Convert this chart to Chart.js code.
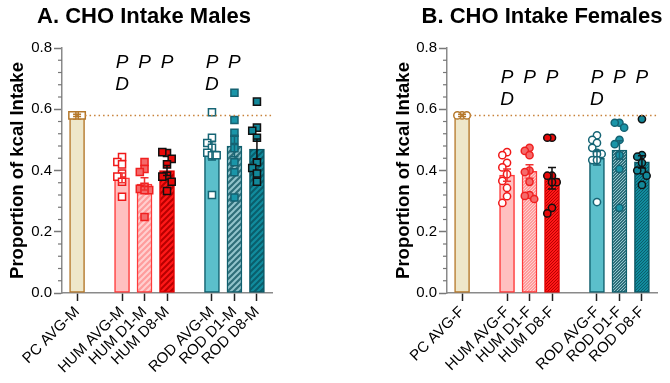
<!DOCTYPE html>
<html>
<head>
<meta charset="utf-8">
<script src="https://cdn.jsdelivr.net/npm/chart.js@4.4.1/dist/chart.umd.min.js"></script>
<style>
  body { margin: 0; background: #fff; }
  #wrap { display: flex; width: 670px; height: 383px; }
  canvas { display: block; }
</style>
</head>
<body>
<div id="wrap">
  <canvas id="males" width="335" height="383"></canvas>
  <canvas id="females" width="335" height="383"></canvas>
</div>
<script>
// Posições das categorias no eixo x (com espaços entre grupos)
const xPos = [0, 2, 3, 4, 6, 7, 8]
const groupsM = ["PC AVG-M", "HUM AVG-M", "HUM D1-M", "HUM D8-M", "ROD AVG-M", "ROD D1-M", "ROD D8-M"]
const groupsF = ["PC AVG-F", "HUM AVG-F", "HUM D1-F", "HUM D8-F", "ROD AVG-F", "ROD D1-F", "ROD D8-F"]

// Médias e erro padrão
const meansM = [0.58, 0.376, 0.356, 0.40, 0.464, 0.48, 0.47]
const semM = [0.004, 0.016, 0.02, 0.016, 0.03, 0.035, 0.033]
const meansF = [0.58, 0.385, 0.397, 0.375, 0.44, 0.467, 0.428]
const semF = [0.004, 0.02, 0.022, 0.035, 0.022, 0.03, 0.02]
const pcRef = 0.58

// Anotações P / D
const pLabels = ["", "P", "P", "P", "P", "P", ""]
const dLabelsM = ["", "D", "", "", "D", "", ""]
const pLabelsF = ["", "P", "P", "P", "P", "P", "P"]
const dLabelsF = ["", "D", "", "", "D", "", ""]

// Valores individuais - machos
const pcM = [0.58, 0.58, 0.58]
const humAvgM = [0.444, 0.428, 0.42, 0.39, 0.38, 0.363, 0.314]
const humD1M = [0.428, 0.405, 0.395, 0.347, 0.34, 0.336, 0.336, 0.248]
const humD8M = [0.457, 0.46, 0.438, 0.42, 0.383, 0.38, 0.363, 0.333]
const rodAvgM = [0.59, 0.507, 0.49, 0.474, 0.458, 0.45, 0.45, 0.32]
const rodD1M = [0.654, 0.565, 0.523, 0.50, 0.473, 0.427, 0.394, 0.312]
const rodD8M = [0.625, 0.54, 0.53, 0.507, 0.427, 0.408, 0.39, 0.363]

// Valores individuais - fêmeas
const pcF = [0.58, 0.58, 0.58]
const humAvgF = [0.46, 0.45, 0.425, 0.41, 0.388, 0.366, 0.343, 0.316, 0.294]
const humD1F = [0.474, 0.464, 0.45, 0.40, 0.395, 0.363, 0.32, 0.317, 0.307]
const humD8F = [0.507, 0.507, 0.383, 0.383, 0.362, 0.362, 0.278, 0.26]
const rodAvgF = [0.515, 0.50, 0.49, 0.474, 0.458, 0.454, 0.454, 0.434, 0.434, 0.297]
const rodD1F = [0.556, 0.556, 0.54, 0.50, 0.486, 0.45, 0.405, 0.278]
const rodD8F = [0.568, 0.45, 0.445, 0.425, 0.40, 0.40, 0.383, 0.353]

const FONT = "'Liberation Sans', Arial, sans-serif"

// Padrão de hachuras diagonais (size = período em px)
function hatch(base, stripe, size, width) {
  const c = document.createElement("canvas")
  c.width = size
  c.height = size
  const g = c.getContext("2d")
  g.fillStyle = base
  g.fillRect(0, 0, size, size)
  g.strokeStyle = stripe
  g.lineWidth = width
  g.beginPath()
  g.moveTo(0, size); g.lineTo(size, 0)
  g.moveTo(-size / 2, size / 2); g.lineTo(size / 2, -size / 2)
  g.moveTo(size / 2, size * 1.5); g.lineTo(size * 1.5, size / 2)
  g.stroke()
  return g.createPattern(c, "repeat")
}

const barBorders = ["#B5782B", "#FF3A3A", "#FF3A3A", "#E00000", "#0F5F6D", "#0F5F6D", "#0B5663"]
const pointFills = ["#FFFFFF", "#FFFFFF", "#F46A6A", "#E80A0A", "#FFFFFF", "#1A95A8", "#12889A"]
const pointBorders = ["#B5782B", "#F01818", "#F02020", "#111111", "#166575", "#156272", "#111111"]
const errColors = ["#B5782B", "#F03030", "#F03030", "#111111", "#166575", "#166575", "#111111"]

// Distribui pontos lado a lado quando se sobrepõem (tipo beeswarm)
function swarm(values) {
  const placed = []
  return values.map((v) => {
    const yPx = v * 306
    let best = 0
    let bestHits = Infinity
    for (const off of [0, -1, 1]) {
      const dx = off * 4.7
      const hits = placed.filter((p) => Math.abs(p.dx - dx) < 4 && Math.abs(p.y - yPx) < 7).length
      if (hits < bestHits) {
        bestHits = hits
        best = dx
      }
      if (hits === 0) break
    }
    placed.push({ dx: best, y: yPx })
    return best / 22.5
  })
}

// Plugin: barras de erro, linha pontilhada, letras P/D, ticks menores e título
const extras = {
  id: "extras",
  afterDatasetsDraw(chart, args, opts) {
    const { ctx, chartArea } = chart
    const x = chart.scales.x
    const y = chart.scales.y

    // linha pontilhada de referência
    ctx.save()
    ctx.strokeStyle = "#C8823A"
    ctx.lineWidth = 1.5
    ctx.setLineDash([1.5, 3])
    ctx.beginPath()
    ctx.moveTo(x.getPixelForValue(0) + 8, y.getPixelForValue(pcRef))
    ctx.lineTo(chartArea.right, y.getPixelForValue(pcRef))
    ctx.stroke()
    ctx.restore()

    // barras de erro
    ctx.save()
    ctx.lineWidth = 1.5
    xPos.forEach((pos, i) => {
      const cx = x.getPixelForValue(pos)
      const top = y.getPixelForValue(opts.means[i] + opts.sem[i])
      const bot = y.getPixelForValue(opts.means[i] - opts.sem[i])
      ctx.strokeStyle = errColors[i]
      ctx.beginPath()
      ctx.moveTo(cx, top); ctx.lineTo(cx, bot)
      ctx.moveTo(cx - 4, top); ctx.lineTo(cx + 4, top)
      ctx.moveTo(cx - 4, bot); ctx.lineTo(cx + 4, bot)
      ctx.stroke()
    })
    ctx.restore()

    // letras P e D
    ctx.save()
    ctx.fillStyle = "#000"
    ctx.font = "italic 19px " + FONT
    ctx.textAlign = "center"
    ctx.textBaseline = "middle"
    xPos.forEach((pos, i) => {
      const cx = x.getPixelForValue(pos)
      if (opts.p[i]) ctx.fillText(opts.p[i], cx, y.getPixelForValue(opts.pY))
      if (opts.d[i]) ctx.fillText(opts.d[i], cx, y.getPixelForValue(opts.dY))
    })
    ctx.restore()

    // ticks menores do eixo y
    ctx.save()
    ctx.strokeStyle = "#777"
    ctx.lineWidth = 1.2
    for (let k = 0; k <= 20; k++) {
      if (k % 5 === 0) continue
      const py = y.getPixelForValue(k * 0.04)
      ctx.beginPath()
      ctx.moveTo(chartArea.left - 4, py)
      ctx.lineTo(chartArea.left, py)
      ctx.stroke()
    }
    ctx.restore()

    // título do painel
    ctx.save()
    ctx.fillStyle = "#000"
    ctx.font = "bold 22px " + FONT
    ctx.textAlign = "center"
    ctx.textBaseline = "middle"
    ctx.fillText(opts.title, opts.titleX, 17)
    ctx.restore()
  },
}

function buildChart(canvasId, cfg) {
  const ctx = document.getElementById(canvasId).getContext("2d")
  const s = cfg.hatchSize
  const w = cfg.hatchWidth
  const barFills = [
    "#EEE7CA",
    "#FFC0C0",
    hatch("#FF9C9C", "#FFD0D0", s, w),
    hatch("#FF1818", "#B80000", s, w),
    "#5BBFCB",
    hatch("#2E6E79", "#93C4CC", s, w),
    hatch("#118C9E", "#0A5E6C", s, w),
  ]

  const datasets = [
    {
      type: "bar",
      data: xPos.map((x, i) => ({ x: x, y: cfg.means[i] })),
      backgroundColor: barFills,
      borderColor: barBorders,
      borderWidth: 1.5,
      borderSkipped: false,
      barThickness: 15,
      order: 2,
    },
  ]

  cfg.points.forEach((vals, i) => {
    const offs = swarm(vals)
    datasets.push({
      type: "scatter",
      data: vals.map((v, j) => ({ x: xPos[i] + offs[j], y: v })),
      pointStyle: cfg.pointStyle,
      pointRadius: cfg.pointStyle === "rect" ? 5 : 3.6,
      pointBackgroundColor: pointFills[i],
      pointBorderColor: pointBorders[i],
      pointBorderWidth: 1.5,
      order: 1,
    })
  })

  new Chart(ctx, {
    type: "bar",
    data: { datasets: datasets },
    plugins: [extras],
    options: {
      responsive: false,
      animation: false,
      layout: { padding: cfg.padding },
      plugins: {
        legend: { display: false },
        tooltip: { enabled: false },
        extras: {
          means: cfg.means,
          sem: cfg.sem,
          p: cfg.p,
          d: cfg.d,
          pY: cfg.pY,
          dY: cfg.dY,
          title: cfg.title,
          titleX: cfg.titleX,
        },
      },
      scales: {
        x: {
          type: "linear",
          min: -0.67,
          max: 8.67,
          offset: false,
          afterBuildTicks: (scale) => {
            scale.ticks = xPos.map((v) => ({ value: v }))
          },
          afterFit: (scale) => {
            scale.height = 90
          },
          ticks: {
            autoSkip: false,
            minRotation: 45,
            maxRotation: 45,
            padding: 2,
            color: "#000",
            font: { family: FONT, size: 15 },
            callback: (value, index) => cfg.labels[index],
          },
          grid: {
            offset: false,
            drawOnChartArea: false,
            tickLength: 8,
            tickColor: "#222",
            tickWidth: 1.5,
          },
          border: { color: "#8a8a8a", width: 1.5 },
        },
        y: {
          min: 0,
          max: 0.8,
          afterFit: (scale) => {
            scale.width = cfg.yWidth
          },
          ticks: {
            stepSize: 0.2,
            padding: 2,
            color: "#000",
            font: { family: FONT, size: 15 },
            callback: (v) => v.toFixed(1),
          },
          grid: {
            drawOnChartArea: false,
            tickLength: 8,
            tickColor: "#777",
            tickWidth: 1.5,
          },
          border: { color: "#8a8a8a", width: 1.5 },
          title: {
            display: true,
            text: "Proportion of kcal Intake",
            color: "#000",
            font: { family: FONT, size: 18.5, weight: "bold" },
            padding: { top: 7 },
          },
        },
      },
    },
  })
}

buildChart("males", {
  labels: groupsM,
  means: meansM,
  sem: semM,
  points: [pcM, humAvgM, humD1M, humD8M, rodAvgM, rodD1M, rodD8M],
  pointStyle: "rect",
  p: pLabels,
  d: dLabelsM,
  pY: 0.751,
  dY: 0.679,
  title: "A. CHO Intake Males",
  titleX: 144,
  padding: { left: 0, right: 63, top: 48, bottom: 0 },
  yWidth: 62,
  hatchSize: 6,
  hatchWidth: 2,
})

buildChart("females", {
  labels: groupsF,
  means: meansF,
  sem: semF,
  points: [pcF, humAvgF, humD1F, humD8F, rodAvgF, rodD1F, rodD8F],
  pointStyle: "circle",
  p: pLabelsF,
  d: dLabelsF,
  pY: 0.702,
  dY: 0.63,
  title: "B. CHO Intake Females",
  titleX: 207,
  padding: { left: 50.5, right: 13, top: 48, bottom: 0 },
  yWidth: 61.5,
  hatchSize: 3,
  hatchWidth: 1,
})
</script>
</body>
</html>
